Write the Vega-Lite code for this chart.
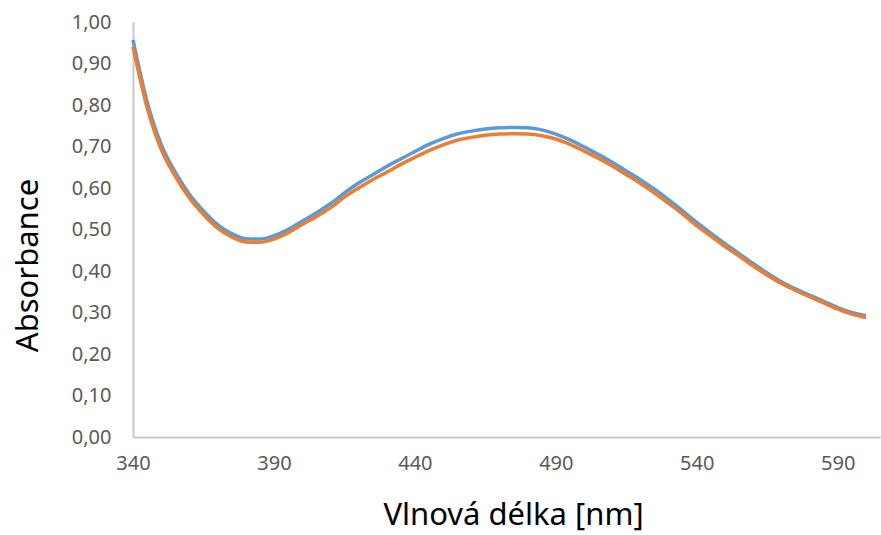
{
  "$schema": "https://vega.github.io/schema/vega-lite/v6.json",
  "autosize": {"type": "none"},
  "width": 747,
  "height": 415,
  "padding": {"left": 133, "top": 22, "right": 1, "bottom": 98},
  "background": "white",
  "config": {"view": {"stroke": null}, "font": "Noto Sans"},
  "datasets": {
    "spectra": [
      {"nm": 340, "s1": 0.957, "s2": 0.940},
      {"nm": 345, "s1": 0.808, "s2": 0.794},
      {"nm": 350, "s1": 0.705, "s2": 0.693},
      {"nm": 355, "s1": 0.638, "s2": 0.628},
      {"nm": 360, "s1": 0.585, "s2": 0.576},
      {"nm": 365, "s1": 0.545, "s2": 0.536},
      {"nm": 370, "s1": 0.512, "s2": 0.503},
      {"nm": 375, "s1": 0.490, "s2": 0.482},
      {"nm": 380, "s1": 0.478, "s2": 0.470},
      {"nm": 385, "s1": 0.477, "s2": 0.469},
      {"nm": 390, "s1": 0.485, "s2": 0.477},
      {"nm": 395, "s1": 0.500, "s2": 0.492},
      {"nm": 400, "s1": 0.520, "s2": 0.512},
      {"nm": 405, "s1": 0.540, "s2": 0.531},
      {"nm": 410, "s1": 0.562, "s2": 0.552},
      {"nm": 415, "s1": 0.588, "s2": 0.578},
      {"nm": 420, "s1": 0.612, "s2": 0.600},
      {"nm": 425, "s1": 0.632, "s2": 0.620},
      {"nm": 430, "s1": 0.652, "s2": 0.638},
      {"nm": 435, "s1": 0.670, "s2": 0.657},
      {"nm": 440, "s1": 0.688, "s2": 0.674},
      {"nm": 445, "s1": 0.705, "s2": 0.690},
      {"nm": 450, "s1": 0.719, "s2": 0.704},
      {"nm": 455, "s1": 0.730, "s2": 0.715},
      {"nm": 460, "s1": 0.737, "s2": 0.722},
      {"nm": 465, "s1": 0.742, "s2": 0.727},
      {"nm": 470, "s1": 0.745, "s2": 0.730},
      {"nm": 475, "s1": 0.746, "s2": 0.731},
      {"nm": 480, "s1": 0.745, "s2": 0.730},
      {"nm": 485, "s1": 0.740, "s2": 0.726},
      {"nm": 490, "s1": 0.730, "s2": 0.718},
      {"nm": 495, "s1": 0.716, "s2": 0.705},
      {"nm": 500, "s1": 0.699, "s2": 0.689},
      {"nm": 505, "s1": 0.681, "s2": 0.672},
      {"nm": 510, "s1": 0.662, "s2": 0.653},
      {"nm": 515, "s1": 0.641, "s2": 0.632},
      {"nm": 520, "s1": 0.620, "s2": 0.611},
      {"nm": 525, "s1": 0.597, "s2": 0.588},
      {"nm": 530, "s1": 0.572, "s2": 0.563},
      {"nm": 535, "s1": 0.545, "s2": 0.537},
      {"nm": 540, "s1": 0.517, "s2": 0.509},
      {"nm": 545, "s1": 0.491, "s2": 0.484},
      {"nm": 550, "s1": 0.466, "s2": 0.459},
      {"nm": 555, "s1": 0.442, "s2": 0.436},
      {"nm": 560, "s1": 0.418, "s2": 0.412},
      {"nm": 565, "s1": 0.395, "s2": 0.390},
      {"nm": 570, "s1": 0.374, "s2": 0.370},
      {"nm": 575, "s1": 0.357, "s2": 0.353},
      {"nm": 580, "s1": 0.342, "s2": 0.338},
      {"nm": 585, "s1": 0.327, "s2": 0.323},
      {"nm": 590, "s1": 0.312, "s2": 0.308},
      {"nm": 595, "s1": 0.300, "s2": 0.296},
      {"nm": 600, "s1": 0.292, "s2": 0.288}
    ]
  },
  "data": {"name": "spectra"},
  "transform": [{"fold": ["s1", "s2"], "as": ["series", "absorbance"]}],
  "mark": {"type": "line", "strokeWidth": 3.5, "interpolate": "monotone"},
  "encoding": {
    "x": {
      "field": "nm", "type": "quantitative",
      "scale": {"domain": [340, 605], "nice": false, "zero": false},
      "axis": {
        "values": [340, 390, 440, 490, 540, 590],
        "title": "Vlnová délka [nm]",
        "titleFontSize": 31, "titleFontWeight": "normal", "titleColor": "#000000",
        "titleX": 380, "titleY": 78, "titleAnchor": "middle", "titleAlign": "center", "titleBaseline": "middle",
        "labelFontSize": 20, "labelColor": "#595959", "labelPadding": 16, "labelFlush": false,
        "ticks": false, "grid": false,
        "domainColor": "#c9c9c9", "domainWidth": 2
      }
    },
    "y": {
      "field": "absorbance", "type": "quantitative",
      "scale": {"domain": [0, 1], "nice": false},
      "axis": {
        "values": [0, 0.1, 0.2, 0.3, 0.4, 0.5, 0.6, 0.7, 0.8, 0.9, 1.0],
        "labelExpr": "replace(format(datum.value, '.2f'), '.', ',')",
        "title": "Absorbance",
        "titleFontSize": 31, "titleFontWeight": "normal", "titleColor": "#000000",
        "titleX": -105, "titleY": 243, "titleAngle": -90, "titleAlign": "center", "titleBaseline": "middle",
        "labelFontSize": 20, "labelColor": "#595959", "labelPadding": 22, "labelFlush": false,
        "ticks": false, "grid": false,
        "domainColor": "#c9c9c9", "domainWidth": 2
      }
    },
    "color": {
      "field": "series", "type": "nominal",
      "scale": {"domain": ["s1", "s2"], "range": ["#5b9bd5", "#ed7d31"]},
      "legend": null
    }
  }
}
